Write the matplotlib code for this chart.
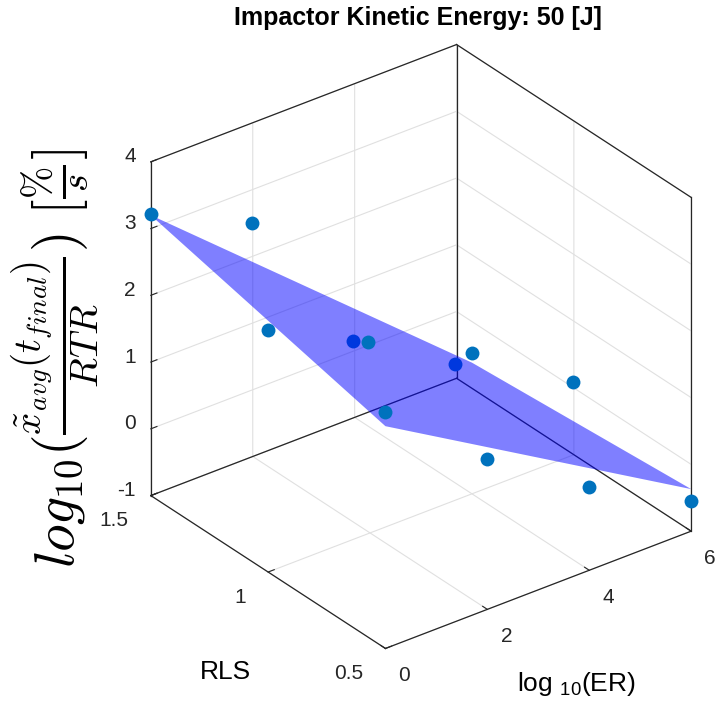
import numpy as np
import matplotlib
matplotlib.use("Agg")
import matplotlib.pyplot as plt
from matplotlib.transforms import offset_copy
from mpl_toolkits.mplot3d import proj3d
from mpl_toolkits.mplot3d.art3d import Poly3DCollection

plt.rcParams["font.family"] = ["Liberation Sans", "DejaVu Sans"]
plt.rcParams["grid.color"] = "#e0e0e0"
plt.rcParams["grid.linewidth"] = 0.8

# Impact tests at 50 J: log10 energy ratio, RLS and log10 normalised rate
log_er = [0.0, 0.9, 0.0, 2.0, 1.5, 0.0, 3.72, 4.0, 2.0, 4.8, 4.0, 6.0]
rls = [1.5, 1.263, 1.0, 1.074, 0.899, 0.5, 1.01, 1.0, 0.5, 0.744, 0.5, 0.5]
log_rate = [3.22, 3.36, 2.62, 1.711, 2.234, 2.55, 1.01, 1.11, 1.25, 1.03, 0.24, -0.55]

# Linear fit: log_rate = c0 + c1 * log_er + c2 * rls
fit_coef = [1.895, -0.45, 0.87]

er_ticks = [0, 2, 4, 6]
rls_ticks = [0.5, 1, 1.5]
z_ticks = [-1, 0, 1, 2, 3, 4]

point_color = "#0072BD"
edge_color = "#262626"
tick_size = 15
label_size = 19


def convex_hull(xs, ys):
    pts = sorted(set(zip(xs, ys)))

    def cross(o, a, b):
        return (a[0] - o[0]) * (b[1] - o[1]) - (a[1] - o[1]) * (b[0] - o[0])

    lower, upper = [], []
    for p in pts:
        while len(lower) >= 2 and cross(lower[-2], lower[-1], p) <= 1e-12:
            lower.pop()
        lower.append(p)
    for p in reversed(pts):
        while len(upper) >= 2 and cross(upper[-2], upper[-1], p) <= 1e-12:
            upper.pop()
        upper.append(p)
    return lower[:-1] + upper[:-1]


def plane(x, y):
    return fit_coef[0] + fit_coef[1] * np.asarray(x) + fit_coef[2] * np.asarray(y)


x = np.array(log_er)
y = np.array(rls)
z = np.array(log_rate)

W, H = 718, 707
fig = plt.figure(figsize=(W / 100, H / 100), dpi=100)
side = 648
cx, cy = 421, H - 346.5
f0 = 0.095 / 0.185
ax = fig.add_axes([(cx - f0 * side) / W, (cy - f0 * side) / H, side / W, side / H],
                  projection="3d", proj_type="ortho", computed_zorder=False)
ax.view_init(elev=30, azim=-127.5)
ax.set_box_aspect((1, 1, 1))

xlo, xhi = er_ticks[0], er_ticks[-1]
ylo, yhi = rls_ticks[0], rls_ticks[-1]
zlo, zhi = z_ticks[0], z_ticks[-1]
ax.set_xlim(xlo, xhi)
ax.set_ylim(ylo, yhi)
ax.set_zlim(zlo, zhi)
ax.set_xticks(er_ticks)
ax.set_yticks(rls_ticks)
ax.set_zticks(z_ticks)
ax.set_xticklabels([])
ax.set_yticklabels([])
ax.set_zticklabels([])
for axis in (ax.xaxis, ax.yaxis, ax.zaxis):
    axis.set_pane_color((1, 1, 1, 0))
    axis.line.set_color((0, 0, 0, 0))
    axis._axinfo["tick"]["inward_factor"] = 0.0
    axis._axinfo["tick"]["outward_factor"] = 0.25
ax.tick_params(axis="both", colors=edge_color)
ax.tick_params(axis="z", colors=edge_color)

# box edges on the back of the cube plus the two front floor edges
edges = [
    ((xlo, xlo), (yhi, yhi), (zlo, zhi)),
    ((xhi, xhi), (yhi, yhi), (zlo, zhi)),
    ((xhi, xhi), (ylo, ylo), (zlo, zhi)),
    ((xlo, xhi), (yhi, yhi), (zhi, zhi)),
    ((xhi, xhi), (ylo, yhi), (zhi, zhi)),
    ((xlo, xhi), (yhi, yhi), (zlo, zlo)),
    ((xhi, xhi), (ylo, yhi), (zlo, zlo)),
    ((xlo, xlo), (ylo, yhi), (zlo, zlo)),
    ((xlo, xhi), (ylo, ylo), (zlo, zlo)),
]
for ex, ey, ez in edges:
    ax.plot(ex, ey, ez, color=edge_color, lw=0.9, zorder=1)

# points under the fitted plane are drawn before it, the rest after it
above = z >= plane(x, y)
ax.scatter(x[~above], y[~above], z[~above], s=100, color=point_color,
           depthshade=False, linewidths=0, zorder=2)

hull = convex_hull(x, y)
hx = np.array([p[0] for p in hull])
hy = np.array([p[1] for p in hull])
verts = [list(zip(hx, hy, plane(hx, hy)))]
surf = Poly3DCollection(verts, facecolor=(0, 0, 1, 0.5), edgecolor="none", zorder=3)
ax.add_collection3d(surf)

ax.scatter(x[above], y[above], z[above], s=100, color=point_color,
           depthshade=False, linewidths=0, zorder=4)

# tick labels, placed beside the projected tick positions
proj = ax.get_proj()


def tick_text(px, py, pz, s, dx, dy, ha):
    X, Y, _ = proj3d.proj_transform(px, py, pz, proj)
    tr = offset_copy(ax.transData, fig=fig, x=dx, y=dy, units="dots")
    ax.text2D(float(X), float(Y), s, transform=tr, ha=ha, va="center",
              fontsize=tick_size, color=edge_color)


for t in z_ticks:
    tick_text(xlo, yhi, t, f"{t:g}", -15, 5, "right")
for t in rls_ticks:
    tick_text(xlo, t, zlo, f"{t:g}", -22, -25, "right")
for t in er_ticks:
    tick_text(t, ylo, zlo, f"{t:g}", 19, -27, "center")

fig.text(418 / W, 1 - 18 / H, "Impactor Kinetic Energy: 50 [J]",
         ha="center", va="center", fontsize=18, fontweight="bold")
fig.text(55 / W, 1 - 358 / H,
         r"$log_{10}(\frac{\tilde{x}_{avg}(t_{final})}{RTR})\ [\frac{\%}{s}]$",
         rotation=90, ha="center", va="center", fontsize=40,
         math_fontfamily="cm")
fig.text(576 / W, 1 - 684 / H, r"log $_{\mathregular{10}}$(ER)",
         ha="center", va="center", fontsize=label_size)
fig.text(225 / W, 1 - 672 / H, "RLS", ha="center", va="center",
         fontsize=label_size)

fig.savefig("out.png", dpi=100)
